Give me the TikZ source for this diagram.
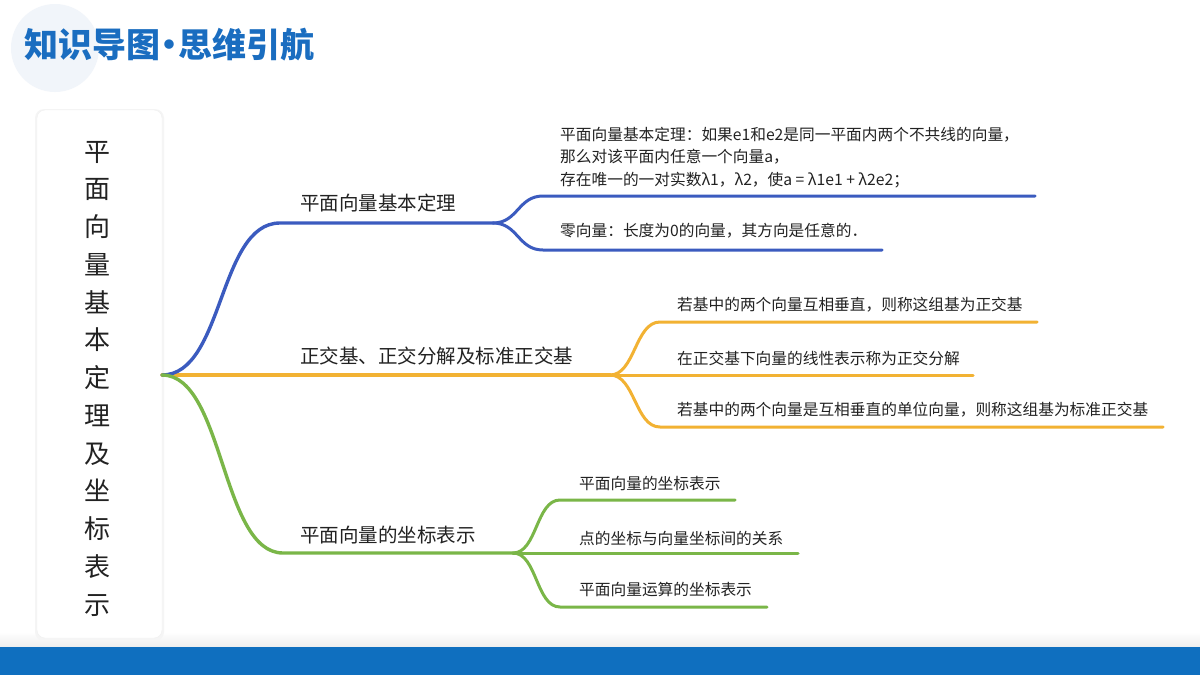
\documentclass[tikz,border=0pt]{standalone}
\usepackage{fontspec}
\setmainfont{Noto Sans CJK SC}
\definecolor{bl}{HTML}{3B5BBF}
\definecolor{og}{HTML}{F2B233}
\definecolor{gr}{HTML}{7AB648}
\definecolor{tblue}{HTML}{1A6DC0}
\definecolor{barblue}{HTML}{0F6FBF}
\definecolor{txt}{HTML}{222222}
\definecolor{halo}{HTML}{F1F5FA}
\begin{document}
\begin{tikzpicture}[x=1pt,y=-1pt,
  mainlab/.style={anchor=west,font=\fontsize{19.5}{20}\selectfont,text=txt,inner sep=0pt},
  sublab/.style={anchor=west,font=\fontsize{15.7}{22.5}\selectfont,text=txt,inner sep=0pt,align=left},
  trunk/.style={line width=3.4pt,line cap=round},
  twig/.style={line width=3pt,line cap=round},
]
\useasboundingbox (0,0) rectangle (1200,675);
\fill[white] (0,0) rectangle (1200,675);
\fill[halo] (55,48) circle (44);
\node[anchor=west,inner sep=0pt,font=\fontsize{34}{34}\selectfont\bfseries,text=tblue] (title) at (24,45) {知识导图\hspace{-8pt}•\hspace{-8pt}思维引航};
\shade[top color=white,bottom color=black!7] (0,632) rectangle (1200,647);
\fill[barblue] (0,647) rectangle (1200,675);
% card
\fill[black!4,rounded corners=9pt] (35,109) rectangle (164,641);
\filldraw[fill=white,draw=black!6,rounded corners=8pt] (37,110) rectangle (162,638);
\node[inner sep=0pt,align=center,font=\fontsize{26}{37.75}\selectfont,text=txt] (root-text) at (97,378.5)
  {平\\面\\向\\量\\基\\本\\定\\理\\及\\坐\\标\\表\\示};
% coordinates
\coordinate (root) at (162,375);
\coordinate (b1) at (280,223);
\coordinate (b1s) at (493,223);
\coordinate (b1a) at (543,196);
\coordinate (b1ae) at (1035,196);
\coordinate (b1b) at (543,250);
\coordinate (b1be) at (882,250);
\coordinate (os) at (610,375);
\coordinate (o1) at (660,322);
\coordinate (o1e) at (1037,322);
\coordinate (o2e) at (973,375);
\coordinate (o3) at (660,427);
\coordinate (o3e) at (1163,427);
\coordinate (g1) at (283,553);
\coordinate (gs) at (513,553);
\coordinate (ga) at (560,500);
\coordinate (gae) at (735,500);
\coordinate (gbe) at (798,553);
\coordinate (gc) at (560,607);
\coordinate (gce) at (767,607);
% orange
\draw[trunk,og] (root) -- (os);
\draw[twig,og] (os) .. controls +(25,0) and +(-25,0) .. (o1) -- (o1e);
\draw[twig,og] (os) -- (o2e);
\draw[twig,og] (os) .. controls +(25,0) and +(-25,0) .. (o3) -- (o3e);
% blue
\draw[trunk,bl] (root) .. controls +(62,0) and +(-62,0) .. (b1) -- (b1s);
\draw[twig,bl] (b1s) .. controls +(25,0) and +(-25,0) .. (b1a) -- (b1ae);
\draw[twig,bl] (b1s) .. controls +(25,0) and +(-25,0) .. (b1b) -- (b1be);
% green
\draw[trunk,gr] (root) .. controls +(62,0) and +(-62,0) .. (g1) -- (gs);
\draw[twig,gr] (gs) .. controls +(24,0) and +(-24,0) .. (ga) -- (gae);
\draw[twig,gr] (gs) -- (gbe);
\draw[twig,gr] (gs) .. controls +(24,0) and +(-24,0) .. (gc) -- (gce);
% labels
\node[mainlab] (l1) at (300,203) {平面向量基本定理};
\node[mainlab] (l2) at (300,356) {正交基、正交分解及标准正交基};
\node[mainlab] (l3) at (300,535) {平面向量的坐标表示};
\node[sublab] (t1) at (560,157.5) {平面向量基本定理：如果e1和e2是同一平面内两个不共线的向量，\\那么对该平面内任意一个向量a，\\存在唯一的一对实数λ1，λ2，使a = λ1e1 + λ2e2；};
\node[sublab] (t2) at (560,231) {零向量：长度为0的向量，其方向是任意的．};
\node[sublab] (t3) at (677,305) {若基中的两个向量互相垂直，则称这组基为正交基};
\node[sublab] (t4) at (677,358) {在正交基下向量的线性表示称为正交分解};
\node[sublab] (t5) at (677,410) {若基中的两个向量是互相垂直的单位向量，则称这组基为标准正交基};
\node[sublab] (t6) at (579,483) {平面向量的坐标表示};
\node[sublab] (t7) at (579,538) {点的坐标与向量坐标间的关系};
\node[sublab] (t8) at (579,590) {平面向量运算的坐标表示};
\end{tikzpicture}
\end{document}
